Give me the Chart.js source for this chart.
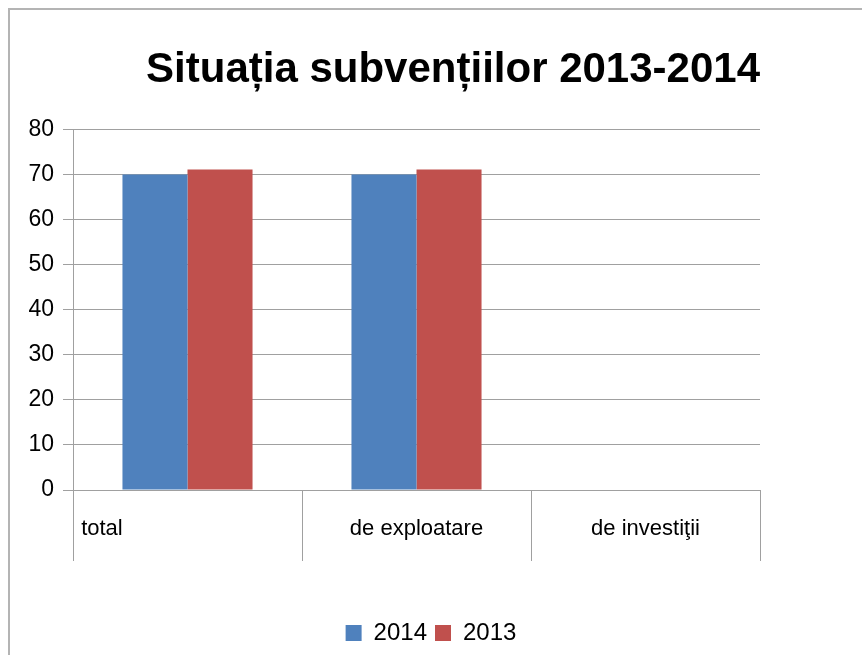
<!DOCTYPE html>
<html>
<head>
<meta charset="utf-8">
<script src="https://cdn.jsdelivr.net/npm/chart.js@4.4.1/dist/chart.umd.min.js"></script>
<style>
    body { margin: 0; background: #fff; overflow: hidden; }
    #frame {
        position: absolute; left: 8px; top: 8px; width: 900px; height: 700px;
        border-left: 2px solid #b4b4b4; border-top: 2px solid #b4b4b4;
    }
    #wrap { position: absolute; left: 0; top: 0; width: 862px; height: 655px; }
</style>
</head>
<body>
<div id="frame"></div>
<div id="wrap"><canvas id="chart" width="862" height="655"></canvas></div>
<script>
// Data
const categories = ['total                            ', 'de exploatare', 'de investiţii'];
const values2014 = [70, 70, 0];
const values2013 = [71.1, 71.1, 0];
const yTicks = [0, 10, 20, 30, 40, 50, 60, 70, 80];

const fontFamily = '"Liberation Sans", Arial, sans-serif';
const gridColor = '#a0a0a0';

document.addEventListener('DOMContentLoaded', function() {
    const ctx = document.getElementById('chart').getContext('2d');
    new Chart(ctx, {
        type: 'bar',
        data: {
            labels: categories,
            datasets: [{
                label: '2014',
                data: values2014,
                backgroundColor: '#4f81bd',
                barPercentage: 1,
                categoryPercentage: 0.568
            }, {
                label: '2013',
                data: values2013,
                backgroundColor: '#c0504d',
                barPercentage: 1,
                categoryPercentage: 0.568
            }]
        },
        options: {
            responsive: false,
            animation: false,
            layout: { padding: { left: 0, right: 0, top: 0, bottom: 0 } },
            plugins: {
                title: {
                    display: true,
                    text: 'Situația subvențiilor 2013-2014',
                    fullSize: false,
                    align: 'end',
                    color: '#000',
                    font: { family: fontFamily, size: 42, weight: 'bold' },
                    padding: { top: 45, bottom: 34 }
                },
                legend: {
                    position: 'bottom',
                    labels: {
                        color: '#000',
                        font: { family: fontFamily, size: 24 },
                        boxWidth: 16,
                        boxHeight: 16,
                        padding: 8
                    }
                },
                tooltip: { enabled: false }
            },
            scales: {
                x: {
                    grid: {
                        offset: true,
                        drawOnChartArea: false,
                        drawTicks: true,
                        tickLength: 71,
                        color: gridColor
                    },
                    border: { color: gridColor },
                    ticks: {
                        color: '#000',
                        padding: -45,
                        maxRotation: 0,
                        font: { family: fontFamily, size: 22 }
                    },
                    afterFit: s => { s.height = 123; }
                },
                y: {
                    min: 0,
                    max: 80,
                    afterBuildTicks: s => { s.ticks = yTicks.map(v => ({ value: v })); },
                    grid: { color: gridColor, tickLength: 10 },
                    border: { color: gridColor },
                    ticks: {
                        color: '#000',
                        padding: 9,
                        font: { family: fontFamily, size: 23 }
                    },
                    afterFit: s => { s.width = 73; }
                },
                yRight: {
                    position: 'right',
                    display: true,
                    grid: { display: false },
                    border: { display: false },
                    ticks: { display: false },
                    afterFit: s => { s.width = 102; }
                }
            }
        }
    });
});
</script>
</body>
</html>
